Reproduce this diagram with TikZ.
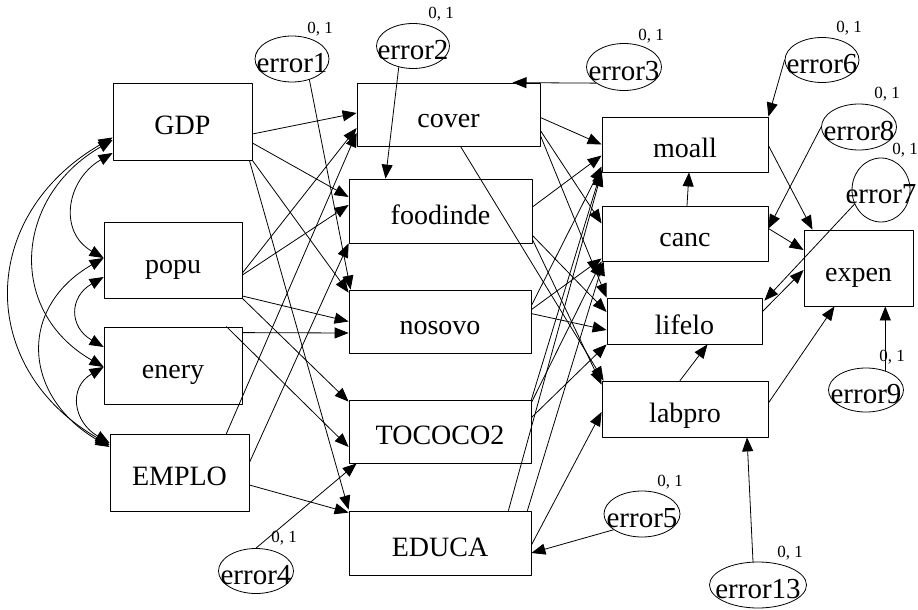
\documentclass[tikz,border=0pt]{standalone}
\usepackage{fontspec}
\setmainfont{Liberation Serif}
\usetikzlibrary{arrows.meta, shapes.geometric}

\begin{document}
\begin{tikzpicture}[x=1pt, y=-1pt, >={Triangle[length=14pt,width=11pt]}, line cap=round, line join=round,
	box/.style={draw, rectangle, line width=0.8pt, inner sep=0pt, text height=26pt, text depth=0pt, font=\fontsize{28}{30}\selectfont},
	err/.style={draw, ellipse, line width=0.8pt, inner sep=0pt, text height=27pt, text depth=0pt, font=\fontsize{29}{31}\selectfont},
	param/.style={inner sep=0pt, font=\fontsize{17}{19}\selectfont},
	link/.style={->, line width=0.8pt},
	cov/.style={<->, line width=0.8pt}]
	
	\useasboundingbox (0,0) rectangle (918,610);
	
	%========================
	% exogenous variables
	%========================
	\node[box, minimum width=139pt, minimum height=77pt] (GDP) at (182.5,121.5) {GDP};
	\node[box, minimum width=138pt, minimum height=76pt] (popu) at (173,260) {popu};
	\node[box, minimum width=138pt, minimum height=77pt] (enery) at (173,365.5) {enery};
	\node[box, minimum width=139pt, minimum height=77pt] (EMPLO) at (179.5,472.5) {EMPLO};
	
	%========================
	% mediators
	%========================
	\node[box, minimum width=183pt, minimum height=63pt] (cover) at (448.5,114.5) {cover};
	\node[box, minimum width=183pt, minimum height=64pt] (foodinde) at (440.5,211) {foodinde};
	\node[box, minimum width=182pt, minimum height=63pt] (nosovo) at (440,321.5) {nosovo};
	\node[box, minimum width=182pt, minimum height=63pt] (TOCOCO2) at (440,431.5) {TOCOCO2};
	\node[box, minimum width=182pt, minimum height=64pt] (EDUCA) at (440,543) {EDUCA};
	
	%========================
	% outcomes
	%========================
	\node[box, minimum width=166pt, minimum height=55pt] (moall) at (685,144.5) {moall};
	\node[box, minimum width=166pt, minimum height=55pt] (canc) at (685,233.5) {canc};
	\node[box, minimum width=155pt, minimum height=46pt] (lifelo) at (684.5,321) {lifelo};
	\node[box, minimum width=166pt, minimum height=56pt] (labpro) at (685,409) {labpro};
	\node[box, minimum width=109pt, minimum height=76pt] (expen) at (858.5,268) {expen};
	
	%========================
	% error terms
	%========================
	\node[err, minimum width=74pt, minimum height=46pt] (e1) at (292,59) {\makebox[0pt]{error1}};
	\node[err, minimum width=73pt, minimum height=45pt] (e2) at (413,46) {\makebox[0pt]{error2}};
	\node[err, minimum width=75pt, minimum height=47pt] (e3) at (624,67) {\makebox[0pt]{error3}};
	\node[err, minimum width=75pt, minimum height=45pt] (e4) at (256,571) {\makebox[0pt]{error4}};
	\node[err, minimum width=76pt, minimum height=46pt] (e5) at (642,514) {\makebox[0pt]{error5}};
	\node[err, minimum width=74pt, minimum height=45pt] (e6) at (822,60) {\makebox[0pt]{error6}};
	\node[err, minimum width=58pt, minimum height=64pt] (e7) at (881,190) {\makebox[0pt]{error7}};
	\node[err, minimum width=75pt, minimum height=46pt] (e8) at (859,127) {\makebox[0pt]{error8}};
	\node[err, minimum width=75pt, minimum height=44pt] (e9) at (866,390) {\makebox[0pt]{error9}};
	\node[err, minimum width=97pt, minimum height=46pt] (e13) at (758,585) {\makebox[0pt]{error13}};
	
	% mean, variance labels
	\node[param] (v1) at (320,29) {0, 1};
	\node[param] (v2) at (441,14) {0, 1};
	\node[param] (v3) at (651,36) {0, 1};
	\node[param] (v4) at (284,538) {0, 1};
	\node[param] (v5) at (670,482) {0, 1};
	\node[param] (v6) at (849,28) {0, 1};
	\node[param] (v7) at (905,150) {0, 1};
	\node[param] (v8) at (887,94) {0, 1};
	\node[param] (v9) at (892,357) {0, 1};
	\node[param] (v13) at (790,553) {0, 1};
	
	% covariances
	\draw[cov] ([yshift=-31.5pt]GDP.west) to[out=210, in=150, distance=53pt] ([yshift=2pt]popu.west);
	\draw[cov] ([yshift=-18.5pt]GDP.west) to[out=210, in=150, distance=113pt] ([yshift=-1.5pt]enery.west);
	\draw[cov] ([yshift=-16pt]GDP.west) to[out=210, in=150, distance=155pt] ([yshift=27.5pt]EMPLO.west);
	\draw[cov] ([yshift=-17pt]popu.west) to[out=210, in=150, distance=40pt] ([yshift=18.5pt]enery.west);
	\draw[cov] ([yshift=2pt]popu.west) to[out=210, in=150, distance=100pt] ([yshift=25.5pt]EMPLO.west);
	\draw[cov] ([yshift=-1.5pt]enery.west) to[out=210, in=150, distance=41.5pt] ([yshift=29.5pt]EMPLO.west);
	
	% exogenous -> mediators
	\draw[link] ([yshift=-12.5pt]GDP.east) -- ([yshift=1.5pt]cover.west);
	\draw[link] ([yshift=-21.5pt]GDP.east) -- ([yshift=14pt]foodinde.west);
	\draw[link] (GDP.south east) -- ([yshift=-3pt]nosovo.north west);
	\draw[link] ([xshift=-3pt]GDP.south east) -- ([yshift=1pt]EDUCA.north west);
	\draw[link] ([yshift=-13pt]popu.east) -- ([yshift=-13.5pt]cover.west);
	\draw[link] ([yshift=-15pt]popu.east) -- ([yshift=6pt]foodinde.west);
	\draw[link] ([yshift=-36pt]popu.east) -- (nosovo.west);
	\draw[link] (popu.south east) -- ([yshift=-2pt]TOCOCO2.north west);
	\draw[link] ([yshift=-6pt]enery.north east) -- ([yshift=-11.5pt]nosovo.west);
	\draw[link] ([xshift=-16pt]enery.north east) -- ([yshift=-15.5pt]TOCOCO2.west);
	\draw[link] ([xshift=-23pt]EMPLO.north east) -- ([yshift=-18.5pt]cover.west);
	\draw[link] ([yshift=-29pt]EMPLO.north east) -- (foodinde.south west);
	\draw[link] ([yshift=-12.5pt]EMPLO.east) -- ([yshift=-2pt]EDUCA.north west);
	
	% mediators -> outcomes
	\draw[link] ([yshift=-3pt]cover.east) -- (moall.west);
	\draw[link] ([yshift=-16pt]cover.east) -- ([yshift=10pt]canc.west);
	\draw[link] ([yshift=-21pt]cover.east) -- (lifelo.north west);
	\draw[link] ([xshift=12pt]cover.south) -- ([xshift=2pt]labpro.north west);
	\draw[link] ([yshift=4pt]foodinde.east) -- ([yshift=-11pt]moall.west);
	\draw[link] ([yshift=8pt]foodinde.south east) -- ([yshift=9pt]lifelo.west);
	\draw[link] ([yshift=4pt]foodinde.south east) -- ([yshift=-4pt]labpro.north west);
	\draw[link] ([yshift=-16pt]nosovo.north east) -- ([yshift=-22pt]moall.west);
	\draw[link] ([yshift=-20pt]nosovo.north east) -- ([yshift=3pt]canc.south west);
	\draw[link] ([yshift=-24pt]nosovo.north east) -- ([yshift=-9pt]lifelo.west);
	\draw[link] (TOCOCO2.north east) -- ([yshift=3pt]moall.south west);
	\draw[link] ([yshift=-3pt]TOCOCO2.north east) -- (canc.south west);
	\draw[link] ([yshift=-18pt]TOCOCO2.north east) -- (lifelo.south west);
	\draw[link] ([xshift=-23pt]EDUCA.north east) -- (moall.south west);
	\draw[link] ([xshift=-4pt]EDUCA.north east) -- ([xshift=2pt]canc.south west);
	\draw[link] ([yshift=-2pt]EDUCA.east) -- ([yshift=-3pt]labpro.west);
	
	% among outcomes
	\draw[link] ([xshift=2pt]canc.north) -- ([xshift=4pt]moall.south);
	\draw[link] ([xshift=-5pt]labpro.north) -- ([xshift=23pt]lifelo.south);
	\draw[link] ([yshift=-1pt]moall.east) -- ([xshift=-46pt]expen.north);
	\draw[link] ([yshift=5pt]canc.east) -- ([yshift=18pt]expen.west);
	\draw[link] ([yshift=-14pt]lifelo.north east) -- ([yshift=-2pt]expen.west);
	\draw[link] ([yshift=6pt]labpro.east) -- ([xshift=-24pt]expen.south);
	
	% errors
	\draw[link] (e1.-50) -- ([xshift=2pt]nosovo.north west);
	\draw[link] (e2.-124) -- ([xshift=-55pt]foodinde.north);
	\draw[link] (e3.-150) -- ([xshift=64pt]cover.north);
	\draw[link] (e4.north) -- ([xshift=8pt]TOCOCO2.south west);
	\draw[link] (e5.209) -- ([yshift=-10pt]EDUCA.east);
	\draw[link] (e6.west) -- (moall.north east);
	\draw[link] (e7.208) -- ([xshift=2pt, yshift=-3pt]lifelo.north east);
	\draw[link] (e8.west) -- ([yshift=5pt]canc.east);
	\draw[link] (e9.45) -- (e9.45 |- expen.south);
	\draw[link] ([xshift=-5pt]e13.north) -- ([xshift=62pt]labpro.south);
	
\end{tikzpicture}
\end{document}
